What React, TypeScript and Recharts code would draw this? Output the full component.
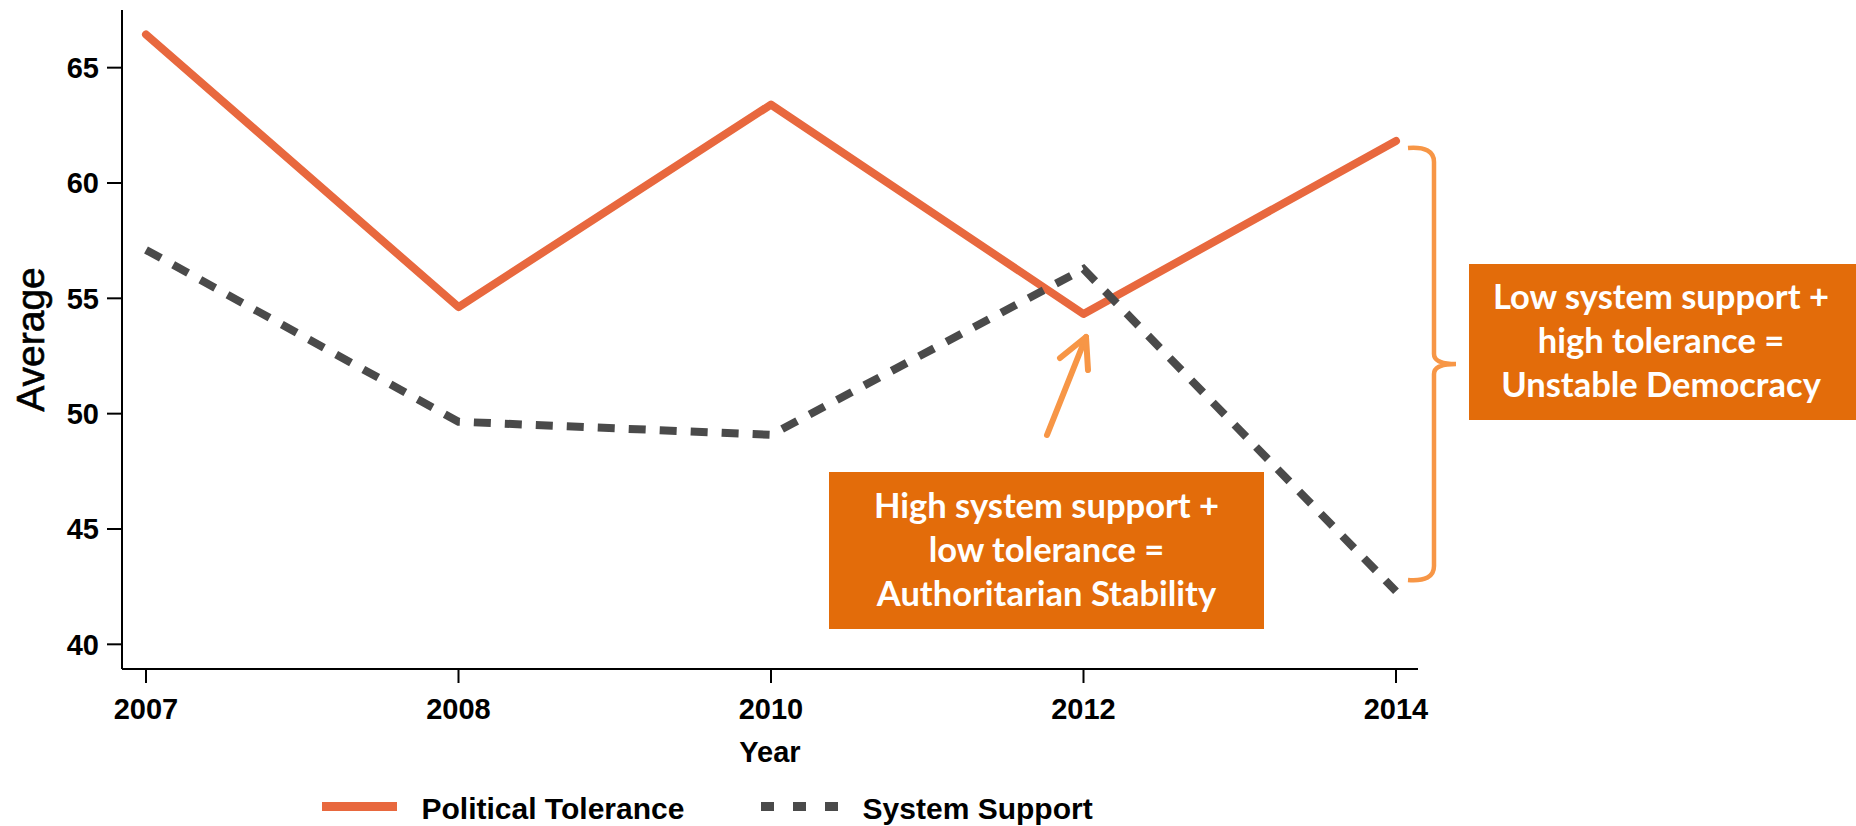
import React from 'react';
import { LineChart, Line, XAxis, YAxis, Legend } from 'recharts';

const years = ['2007', '2008', '2010', '2012', '2014'];
const politicalTolerance = [66.44, 54.62, 63.4, 54.32, 61.82];
const systemSupport = [57.1, 49.65, 49.08, 56.27, 42.3];
const yTicks = [40, 45, 50, 55, 60, 65];

const seriesNames = { pt: 'Political Tolerance', ss: 'System Support' };
const boxLeftLines = ['High system support +', 'low tolerance =', 'Authoritarian Stability'];
const boxRightLines = ['Low system support +', 'high tolerance =', 'Unstable Democracy'];

const data = years.map((y, i) => ({ year: y, pt: politicalTolerance[i], ss: systemSupport[i] }));

const ORANGE = '#E8683E';
const GRAY = '#4A4A4A';
const LIGHT = '#F79646';
const BOX = '#E36C0A';
const AX_FONT = 'Liberation Sans, Arial, sans-serif';
const BOX_FONT = 'Lato, "Open Sans", sans-serif';

const YearLabel = (props: any) => {
  const vb = props.viewBox || {};
  return (
    <text x={vb.x + vb.width / 2} y={vb.y + 93} textAnchor="middle" fontFamily={AX_FONT} fontWeight={700} fontSize={29} fill="#000">
      Year
    </text>
  );
};

const AvgLabel = (props: any) => {
  const vb = props.viewBox || {};
  const cy = vb.y + vb.height / 2;
  return (
    <text
      x={44}
      y={cy}
      transform={`rotate(-90 44 ${cy})`}
      textAnchor="middle"
      fontFamily={AX_FONT}
      fontSize={39}
      fill="#000"
      stroke="#000"
      strokeWidth={0.6}
    >
      Average
    </text>
  );
};

const LegendContent = () => (
  <svg width={1856} height={36} style={{ display: 'block', overflow: 'visible' }}>
    <line x1={322} x2={397} y1={22.5} y2={22.5} stroke={ORANGE} strokeWidth={9} />
    <text x={421.5} y={35} fontFamily={AX_FONT} fontWeight={700} fontSize={30} fill="#000">{seriesNames.pt}</text>
    <line x1={761} x2={838} y1={22.5} y2={22.5} stroke={GRAY} strokeWidth={9} strokeDasharray="13 19" />
    <text x={862.6} y={35} fontFamily={AX_FONT} fontWeight={700} fontSize={30} fill="#000">{seriesNames.ss}</text>
  </svg>
);

const Annotations = () => (
  <svg width={1856} height={826} style={{ position: 'absolute', left: 0, top: 0, pointerEvents: 'none' }}>
    <g stroke={LIGHT} strokeWidth={6} strokeLinecap="round" fill="none">
      <line x1={1047} y1={435} x2={1086} y2={337} />
      <polyline points="1060,358 1086,337 1088,370" strokeLinejoin="round" />
    </g>
    <path
      d="M1408,148 Q1434,146 1434,162 L1434,354 Q1434,364 1456,364 Q1434,364 1434,374 L1434,566 Q1434,582 1408,580"
      stroke={LIGHT}
      strokeWidth={4.5}
      fill="none"
    />
    <rect x={829} y={472} width={435} height={157} fill={BOX} />
    {boxLeftLines.map((t, i) => (
      <text key={t} x={1046.5} y={518 + i * 44} textAnchor="middle" fontFamily={BOX_FONT} fontWeight={700} fontSize={34.5} fill="#fff">
        {t}
      </text>
    ))}
    <rect x={1469} y={264} width={387} height={156} fill={BOX} />
    {boxRightLines.map((t, i) => (
      <text key={t} x={1661} y={309 + i * 44} textAnchor="middle" fontFamily={BOX_FONT} fontWeight={700} fontSize={34.5} fill="#fff">
        {t}
      </text>
    ))}
  </svg>
);

export default function App() {
  return (
    <div style={{ position: 'absolute', left: 0, top: 0, width: 1856, height: 826, overflow: 'hidden', background: '#fff' }}>
      <LineChart width={1856} height={826} data={data} margin={{ top: 10, right: 438, bottom: 57, left: 62 }}>
        <XAxis
          dataKey="year"
          type="category"
          interval={0}
          padding={{ left: 24, right: 22 }}
          height={100}
          tickSize={14}
          tickMargin={15}
          axisLine={{ stroke: '#000', strokeWidth: 2 }}
          tickLine={{ stroke: '#000', strokeWidth: 2 }}
          tick={{ fill: '#000', fontSize: 29, fontWeight: 700, fontFamily: AX_FONT }}
          label={{ content: (p: any) => <YearLabel {...p} /> }}
        />
        <YAxis
          width={60}
          domain={[38.93, 67.5]}
          ticks={yTicks}
          allowDataOverflow
          tickSize={15}
          tickMargin={8}
          axisLine={{ stroke: '#000', strokeWidth: 2 }}
          tickLine={{ stroke: '#000', strokeWidth: 2 }}
          tick={{ fill: '#000', fontSize: 29, fontWeight: 700, fontFamily: AX_FONT }}
          label={{ content: (p: any) => <AvgLabel {...p} /> }}
        />
        <Legend
          verticalAlign="bottom"
          content={() => <LegendContent />}
          wrapperStyle={{ left: 0, top: 784, bottom: 'auto', width: 1856, height: 0, overflow: 'visible' }}
        />
        <Line
          dataKey="pt"
          name={seriesNames.pt}
          stroke={ORANGE}
          strokeWidth={8}
          strokeLinecap="round"
          strokeLinejoin="round"
          dot={false}
          activeDot={false}
          isAnimationActive={false}
        />
        <Line
          dataKey="ss"
          name={seriesNames.ss}
          stroke={GRAY}
          strokeWidth={8}
          strokeDasharray="17 14"
          dot={false}
          activeDot={false}
          isAnimationActive={false}
        />
      </LineChart>
      <Annotations />
    </div>
  );
}
